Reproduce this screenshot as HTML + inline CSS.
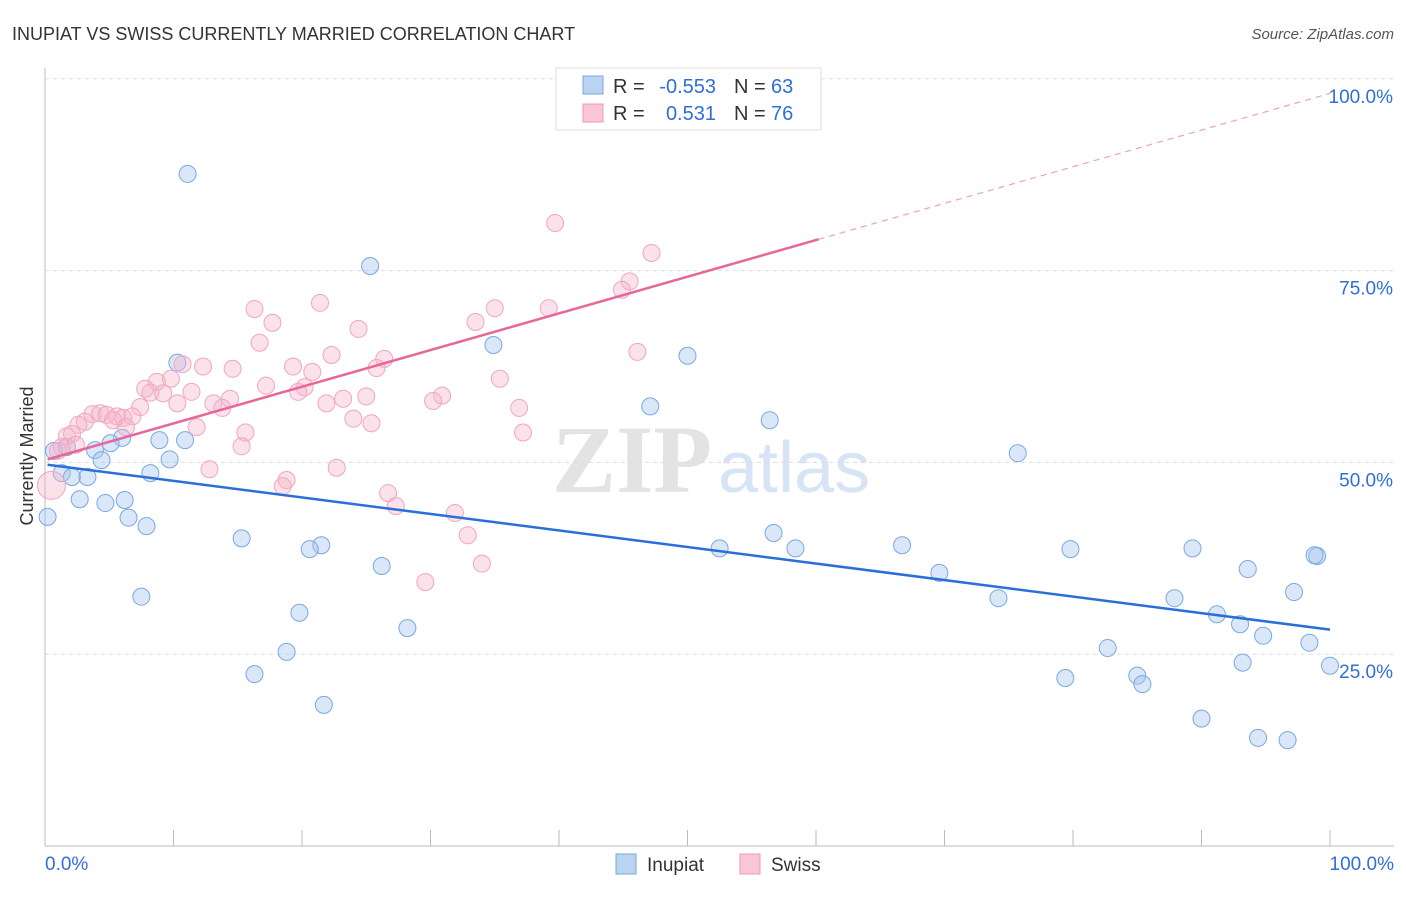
<!DOCTYPE html>
<html><head><meta charset="utf-8"><style>
body{margin:0;background:#fff;font-family:"Liberation Sans",sans-serif;}
</style></head><body>
<svg id="chart" width="1406" height="892" xmlns="http://www.w3.org/2000/svg" font-family="Liberation Sans, sans-serif">
<text x="12" y="40" font-size="18" fill="#333">INUPIAT VS SWISS CURRENTLY MARRIED CORRELATION CHART</text>
<text x="1394" y="39" font-size="15" fill="#555" text-anchor="end" font-style="italic">Source: ZipAtlas.com</text>
<text x="552" y="492" font-size="96" fill="#e3e3e3" font-family="Liberation Serif, serif" font-weight="bold">ZIP</text>
<text x="718" y="492" font-size="72" fill="#d6e4f5">atlas</text>
<g id="grid"></g><g id="axes"></g><g id="marks"></g>
<text transform="translate(33,456) rotate(-90)" font-size="18" fill="#333" text-anchor="middle">Currently Married</text>
<g>
<rect x="556" y="68" width="265" height="62" fill="#fff" stroke="#ddd"/>
<rect x="583" y="76" width="20" height="18" fill="#b9d3f2" stroke="#7aa6e0"/>
<rect x="583" y="104" width="20" height="18" fill="#f9c6d6" stroke="#ec9ab5"/>
<text x="613" y="93" font-size="20" fill="#333">R =</text>
<text x="716" y="93" font-size="20" fill="#2f6fd6" text-anchor="end">-0.553</text>
<text x="734" y="93" font-size="20" fill="#333">N =</text>
<text x="771" y="93" font-size="20" fill="#2f6fd6">63</text>
<text x="613" y="120" font-size="20" fill="#333">R =</text>
<text x="716" y="120" font-size="20" fill="#2f6fd6" text-anchor="end">0.531</text>
<text x="734" y="120" font-size="20" fill="#333">N =</text>
<text x="771" y="120" font-size="20" fill="#2f6fd6">76</text>
</g>
<g>
<rect x="616" y="854" width="20" height="20" fill="#b9d3f2" stroke="#7aa6e0"/>
<text x="647" y="871" font-size="19" fill="#333">Inupiat</text>
<rect x="740" y="854" width="20" height="20" fill="#f9c6d6" stroke="#ec9ab5"/>
<text x="771" y="871" font-size="19" fill="#333">Swiss</text>
</g>
</svg>
<script>
const blueX=[11.1,25.3,34.9,50.0,10.3,47.1,56.4,75.7,0.7,1.7,3.9,6.0,5.1,8.9,10.9,4.4,9.7,1.3,2.1,3.3,8.2,2.7,4.7,6.2,0.2,6.5,7.9,15.3,21.5,20.6,52.5,56.7,58.4,66.7,79.8,89.3,99.0,26.2,69.6,93.6,7.5,74.2,87.9,97.2,19.8,91.2,28.2,93.0,94.8,18.8,82.7,98.4,100,93.2,16.3,79.4,85.0,85.4,21.7,90.0,94.4,96.7,98.8];
const blueY=[87.6,75.6,65.3,63.9,63.0,57.3,55.5,51.2,51.5,52.0,51.6,53.2,52.5,52.9,52.9,50.3,50.4,48.6,48.1,48.1,48.6,45.2,44.7,45.1,42.9,42.8,41.7,40.1,39.2,38.7,38.8,40.8,38.8,39.2,38.7,38.8,37.8,36.5,35.6,36.1,32.5,32.3,32.3,33.1,30.4,30.2,28.4,28.9,27.4,25.3,25.8,26.5,23.5,23.9,22.4,21.9,22.2,21.1,18.4,16.6,14.1,13.8,37.9];
const pinkX=[39.7,47.2,45.5,44.9,52.1,54.5,16.3,21.4,35.0,39.2,17.7,33.5,24.4,16.7,22.3,46.1,26.4,25.8,19.3,12.3,14.6,10.7,20.8,35.4,9.8,8.7,17.2,20.2,19.7,7.8,11.4,8.2,25.0,30.9,14.4,23.2,10.3,13.1,21.9,30.2,13.8,36.9,7.4,3.7,4.3,4.8,5.6,6.1,6.8,24.0,25.4,3.1,2.6,6.3,11.8,15.6,37.2,1.7,2.1,15.3,1.3,1.0,12.8,22.7,18.8,18.5,26.7,27.3,31.9,32.9,34.0,29.6,0.5,2.4,9.2,5.3];
const pinkY=[81.2,77.3,73.6,72.5,99.8,99.8,70.0,70.8,70.1,70.1,68.2,68.3,67.4,65.6,64.0,64.4,63.5,62.3,62.5,62.5,62.2,62.8,61.8,60.9,60.9,60.5,60.0,59.8,59.2,59.6,59.2,59.1,58.6,58.7,58.3,58.3,57.7,57.7,57.7,58.0,57.1,57.1,57.2,56.3,56.4,56.2,56.0,55.8,56.0,55.7,55.1,55.3,54.9,54.6,54.6,53.9,53.9,53.4,53.7,52.1,52.0,51.5,49.1,49.3,47.7,46.9,46.0,44.3,43.4,40.5,36.8,34.4,47.0,52.3,59.0,55.5];
const blueTrend=[49.7,28.2];
const pinkTrend=[50.3,98.1];
const pinkSolidEnd=60.2;
const yTicks=[25,50,75,100];
const xTickVals=[0,10,20,30,40,50,60,70,80,90,100];
const X=v=>45+v*12.85, Y=v=>846-v*7.672;
const NS="http://www.w3.org/2000/svg";
function mk(parent,tag,attrs){const e=document.createElementNS(NS,tag);for(const k in attrs)e.setAttribute(k,attrs[k]);document.getElementById(parent).appendChild(e);return e;}
mk('axes','line',{x1:45,y1:68,x2:45,y2:846,stroke:'#bbb'});
mk('axes','line',{x1:45,y1:846,x2:1394,y2:846,stroke:'#bbb'});
yTicks.forEach(t=>{
 const g=mk('grid','line',{x1:45,x2:1394,y1:Y(t),y2:Y(t),stroke:'#ddd','stroke-dasharray':'4,4'});
 
 
 const l=mk('axes','text',{x:1393,y:Y(t)+24,'font-size':19,fill:'#2f6fd6','text-anchor':'end'});
 
 
 l.textContent=t.toFixed(1)+'%';
});
xTickVals.forEach(t=>{
 const k=mk('axes','line',{x1:X(t),x2:X(t),y1:830,y2:846,stroke:'#bbb'});
 
 
});
[[0,'0.0%','start',45],[100,'100.0%','end',1394]].forEach(a=>{
 const l=mk('axes','text',{x:a[3],y:870,'font-size':19,fill:'#2f6fd6','text-anchor':a[2]});
 
 
 l.textContent=a[1];
});
blueX.forEach((v,i)=>{
 const c=mk('marks','circle',{cx:X(v),cy:Y(blueY[i]),r:8.5,fill:'rgba(160,196,238,0.4)',stroke:'#7aa8e2','stroke-width':1});
 
 
});
pinkX.forEach((v,i)=>{
 const c=mk('marks','circle',{cx:X(v),cy:Y(pinkY[i]),r:i==72?14:8.5,fill:'rgba(246,180,202,0.4)',stroke:'#f0a6bf','stroke-width':1});
 
 
});
const pt=v=>pinkTrend[0]+(pinkTrend[1]-pinkTrend[0])*v/100;
const bl=mk('marks','line',{x1:X(0.2),y1:Y(blueTrend[0]),x2:X(100),y2:Y(blueTrend[1]),stroke:'#2a6fd8','stroke-width':2.5});


const pl=mk('marks','line',{x1:X(0.2),y1:Y(pt(0.2)),x2:X(pinkSolidEnd),y2:Y(pt(pinkSolidEnd)),stroke:'#e8679a','stroke-width':2.5});


const pd=mk('marks','line',{x1:X(pinkSolidEnd),y1:Y(pt(pinkSolidEnd)),x2:X(100),y2:Y(pt(100)),stroke:'#eea0bb','stroke-width':1.2,'stroke-dasharray':'6,5'});


</script>
</body></html>
